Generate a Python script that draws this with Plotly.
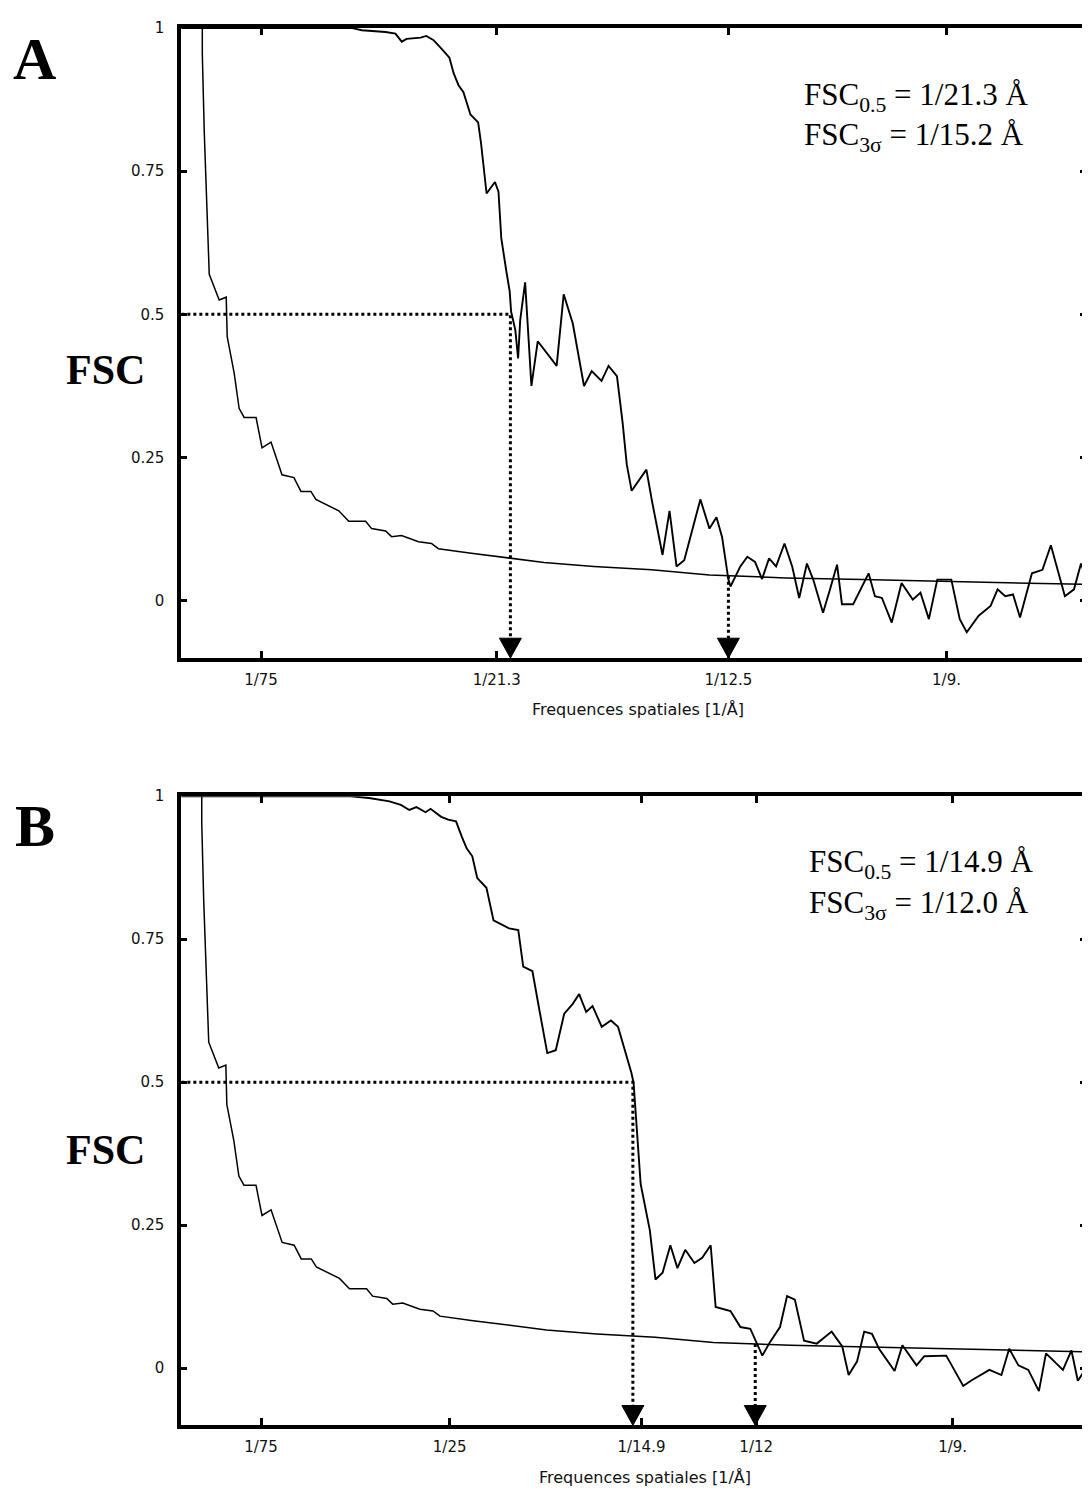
import numpy as np
import plotly.graph_objects as go

# Spatial frequencies in 1/Angstrom, FSC values

# 3-sigma threshold curve (same in both panels)
thr_freq = [0.00495, 0.00495, 0.00523, 0.00566, 0.00594, 0.00736, 0.00836, 0.00850,
            0.00949, 0.01020, 0.01092, 0.01262, 0.01347, 0.01475, 0.01632, 0.01802,
            0.01902, 0.02044, 0.02115, 0.02442, 0.02584, 0.02825, 0.02911, 0.03110,
            0.03195, 0.03337, 0.03579, 0.03764, 0.03863, 0.04332, 0.04758, 0.05370,
            0.06080, 0.06905, 0.07729, 0.08823, 0.09918, 0.11012, 0.12120, 0.13101,
            0.13300]
thr_val = [1.000, 0.955, 0.818, 0.680, 0.570, 0.525, 0.530, 0.461,
           0.398, 0.336, 0.320, 0.320, 0.267, 0.277, 0.220, 0.215,
           0.191, 0.191, 0.177, 0.157, 0.139, 0.139, 0.126, 0.122,
           0.112, 0.114, 0.103, 0.100, 0.091, 0.083, 0.076, 0.067,
           0.060, 0.054, 0.045, 0.040, 0.037, 0.034, 0.031, 0.029,
           0.028]

# panel A, FSC curve
freq_a = [0.0017, 0.0262, 0.0277, 0.0311, 0.0325, 0.0334, 0.0341, 0.0361, 0.0369, 0.0379,
          0.0389, 0.0402, 0.0408, 0.0415, 0.0422, 0.0432, 0.0443, 0.0447, 0.0455, 0.0460,
          0.0467, 0.0472, 0.0476, 0.0483, 0.0488, 0.0490, 0.0496, 0.0500, 0.0503, 0.0510,
          0.0519, 0.0528, 0.0555, 0.0565, 0.0578, 0.0594, 0.0605, 0.0619, 0.0629, 0.0641,
          0.0649, 0.0655, 0.0662, 0.0683, 0.0691, 0.0706, 0.0716, 0.0726, 0.0737, 0.0760,
          0.0773, 0.0783, 0.0791, 0.0800, 0.0803, 0.0817, 0.0827, 0.0838, 0.0848, 0.0858,
          0.0868, 0.0880, 0.0891, 0.0901, 0.0912, 0.0921, 0.0935, 0.0945, 0.0955, 0.0962,
          0.0978, 0.1000, 0.1009, 0.1019, 0.1033, 0.1047, 0.1063, 0.1074, 0.1086, 0.1098,
          0.1118, 0.1130, 0.1140, 0.1157, 0.1174, 0.1184, 0.1195, 0.1206, 0.1216, 0.1233,
          0.1248, 0.1260, 0.1280, 0.1293, 0.1303, 0.1313]
fsc_a = [1.000, 1.000, 0.996, 0.993, 0.990, 0.976, 0.981, 0.983, 0.986, 0.979,
         0.966, 0.948, 0.921, 0.900, 0.888, 0.849, 0.835, 0.800, 0.711, 0.719,
         0.731, 0.714, 0.633, 0.577, 0.540, 0.505, 0.473, 0.423, 0.490, 0.556,
         0.375, 0.453, 0.410, 0.535, 0.484, 0.375, 0.401, 0.384, 0.410, 0.392,
         0.312, 0.238, 0.192, 0.229, 0.174, 0.080, 0.157, 0.060, 0.071, 0.177,
         0.126, 0.146, 0.111, 0.037, 0.025, 0.060, 0.077, 0.068, 0.038, 0.074,
         0.060, 0.100, 0.060, 0.005, 0.065, 0.037, -0.021, 0.020, 0.063, -0.006,
         -0.006, 0.048, 0.008, 0.005, -0.038, 0.031, 0.002, 0.014, -0.032, 0.037,
         0.037, -0.032, -0.055, -0.026, -0.009, 0.020, 0.008, 0.011, -0.029, 0.048,
         0.054, 0.097, 0.008, 0.020, 0.065, 0.030]

# panel B, FSC curve
freq_b = [0.0017, 0.0260, 0.0286, 0.0315, 0.0331, 0.0343, 0.0353, 0.0366, 0.0373, 0.0388,
          0.0398, 0.0409, 0.0417, 0.0424, 0.0432, 0.0439, 0.0452, 0.0462, 0.0484, 0.0497,
          0.0504, 0.0517, 0.0526, 0.0538, 0.0550, 0.0562, 0.0574, 0.0583, 0.0593, 0.0602,
          0.0615, 0.0628, 0.0638, 0.0648, 0.0657, 0.0660, 0.0666, 0.0670, 0.0683, 0.0691,
          0.0701, 0.0712, 0.0722, 0.0733, 0.0746, 0.0757, 0.0769, 0.0776, 0.0797, 0.0811,
          0.0825, 0.0838, 0.0842, 0.0853, 0.0867, 0.0877, 0.0888, 0.0901, 0.0919, 0.0940,
          0.0955, 0.0964, 0.0976, 0.0986, 0.0997, 0.1007, 0.1029, 0.1040, 0.1060, 0.1071,
          0.1091, 0.1102, 0.1126, 0.1138, 0.1163, 0.1180, 0.1191, 0.1204, 0.1218, 0.1233,
          0.1243, 0.1267, 0.1279, 0.1288, 0.1300, 0.1310]
fsc_b = [1.000, 1.000, 0.997, 0.991, 0.985, 0.976, 0.981, 0.972, 0.978, 0.964,
         0.959, 0.956, 0.930, 0.909, 0.895, 0.857, 0.840, 0.783, 0.769, 0.766,
         0.702, 0.694, 0.632, 0.551, 0.556, 0.620, 0.637, 0.654, 0.623, 0.633,
         0.597, 0.608, 0.597, 0.556, 0.516, 0.499, 0.384, 0.322, 0.241, 0.155,
         0.167, 0.215, 0.175, 0.207, 0.184, 0.193, 0.215, 0.107, 0.100, 0.072,
         0.069, 0.034, 0.022, 0.046, 0.072, 0.126, 0.120, 0.048, 0.043, 0.064,
         0.038, -0.012, 0.012, 0.064, 0.060, 0.034, -0.005, 0.040, 0.005, 0.021,
         0.022, 0.022, -0.031, -0.021, -0.003, -0.012, 0.034, 0.005, -0.003, -0.040,
         0.026, -0.003, 0.031, -0.022, 0.000, 0.020]

# where the arrows hit the frequency axis: [FSC 0.5, FSC 3 sigma]
cross_a = [0.0489, 0.0800]
cross_b = [0.0659, 0.0832]

tickvals_a = [1 / 75, 1 / 21.3, 1 / 12.5, 1 / 9]
ticktext_a = ["1/75", "1/21.3", "1/12.5", "1/9."]
tickvals_b = [1 / 75, 1 / 25, 1 / 14.9, 1 / 12, 1 / 9]
ticktext_b = ["1/75", "1/25", "1/14.9", "1/12", "1/9."]

res_text_a = ["FSC<sub>0.5</sub> = 1/21.3 Å", "FSC<sub>3σ</sub> = 1/15.2 Å"]
res_text_b = ["FSC<sub>0.5</sub> = 1/14.9 Å", "FSC<sub>3σ</sub> = 1/12.0 Å"]

# the page adds an 8px body margin; the figure is shifted back by it
PAD = 8
W, H = 1090 - PAD, 1490 - PAD
YMIN, YMAX = -0.1, 1.0


def fx(sx):
    return (sx - PAD) / W


def fy(sy):
    return 1 - (sy - PAD) / H


panels = [
    dict(x="x", y="y", freq=freq_a, fsc=fsc_a, cross=cross_a,
         xr=[(182 - 168.2) / 7036, (1090 - 168.2) / 7036],
         tv=tickvals_a, tt=ticktext_a, ydom=[fy(653), fy(19)], txt=res_text_a,
         letter=(35, 50), fsc_lab=(106, 363), txt_pos=(805, 88), title=(640, 705)),
    dict(x="x2", y="y2", freq=freq_b, fsc=fsc_b, cross=cross_b,
         xr=[(182 - 167.3) / 7100, (1090 - 167.3) / 7100],
         tv=tickvals_b, tt=ticktext_b, ydom=[fy(1425), fy(792)], txt=res_text_b,
         letter=(35, 822), fsc_lab=(106, 1148), txt_pos=(810, 860), title=(647, 1477)),
]
letters = ["A", "B"]

fig = go.Figure()
annotations = []

for i, p in enumerate(panels):
    xa, ya = p["x"], p["y"]
    px_per_f = (1090 - 182) / (p["xr"][1] - p["xr"][0])
    px_per_v = (p["ydom"][1] - p["ydom"][0]) * H / (YMAX - YMIN)

    # threshold curve and FSC curve
    fig.add_trace(go.Scatter(x=thr_freq, y=thr_val, mode="lines", xaxis=xa, yaxis=ya,
                             line=dict(color="black", width=1.5), showlegend=False))
    fig.add_trace(go.Scatter(x=p["freq"], y=p["fsc"], mode="lines", xaxis=xa, yaxis=ya,
                             line=dict(color="black", width=1.9), showlegend=False))

    # dotted guide lines with arrow heads
    head_h = 20 / px_per_v
    head_w = 11 / px_per_f
    base = YMIN + head_h
    f05, f3s = p["cross"]
    v3s = float(np.interp(f3s, thr_freq, thr_val))
    fig.add_trace(go.Scatter(x=[p["xr"][0], f05, f05], y=[0.5, 0.5, base], mode="lines",
                             xaxis=xa, yaxis=ya, showlegend=False,
                             line=dict(color="black", width=3, dash="dot")))
    fig.add_trace(go.Scatter(x=[f3s, f3s], y=[v3s, base], mode="lines",
                             xaxis=xa, yaxis=ya, showlegend=False,
                             line=dict(color="black", width=3, dash="dot")))
    for f in p["cross"]:
        fig.add_trace(go.Scatter(x=[f - head_w, f + head_w, f, f - head_w],
                                 y=[base, base, YMIN, base], mode="lines", fill="toself",
                                 fillcolor="black", line=dict(color="black", width=1),
                                 xaxis=xa, yaxis=ya, showlegend=False))

    # text
    lx, ly = p["letter"]
    annotations.append(dict(text="<b>" + letters[i] + "</b>", x=fx(lx), y=fy(ly),
                            xanchor="center", yanchor="middle",
                            font=dict(family="Liberation Serif", size=60, color="black")))
    sx, sy = p["fsc_lab"]
    annotations.append(dict(text="<b>FSC</b>", x=fx(sx), y=fy(sy),
                            xanchor="center", yanchor="middle",
                            font=dict(family="Liberation Serif", size=42, color="black")))
    tx, ty = p["txt_pos"]
    for k, t in enumerate(p["txt"]):
        annotations.append(dict(text=t, x=fx(tx), y=fy(ty + 41 * k),
                                xanchor="left", yanchor="middle",
                                font=dict(family="Liberation Serif", size=31, color="black")))
    ttx, tty = p["title"]
    annotations.append(dict(text="Frequences spatiales [1/Å]", x=fx(ttx), y=fy(tty),
                            xanchor="center", yanchor="middle",
                            font=dict(family="DejaVu Sans", size=16, color="#111")))

for a in annotations:
    a.update(xref="paper", yref="paper", showarrow=False)

axis_common = dict(showgrid=False, zeroline=False, showline=True, linecolor="black",
                   linewidth=4, ticks="inside", tickwidth=3, tickcolor="black",
                   tickfont=dict(family="DejaVu Sans", size=15, color="#111"))

layout = dict(width=W, height=H, paper_bgcolor="white", plot_bgcolor="white",
              margin=dict(l=0, r=0, t=0, b=0), annotations=annotations)
for i, p in enumerate(panels):
    s = "" if i == 0 else "2"
    layout["xaxis" + s] = dict(axis_common, domain=[fx(182), 1], range=p["xr"],
                               anchor="y" + s, tickvals=p["tv"], ticktext=p["tt"],
                               ticklen=7, mirror="ticks", ticklabelstandoff=5)
    layout["yaxis" + s] = dict(axis_common, domain=p["ydom"], range=[YMIN, YMAX],
                               anchor="x" + s, tickvals=[0, 0.25, 0.5, 0.75, 1],
                               ticktext=["0", "0.25", "0.5", "0.75", "1"],
                               ticklen=6, mirror="ticks", ticklabelstandoff=10)

fig.update_layout(**layout)
fig.write_html("out.html")
